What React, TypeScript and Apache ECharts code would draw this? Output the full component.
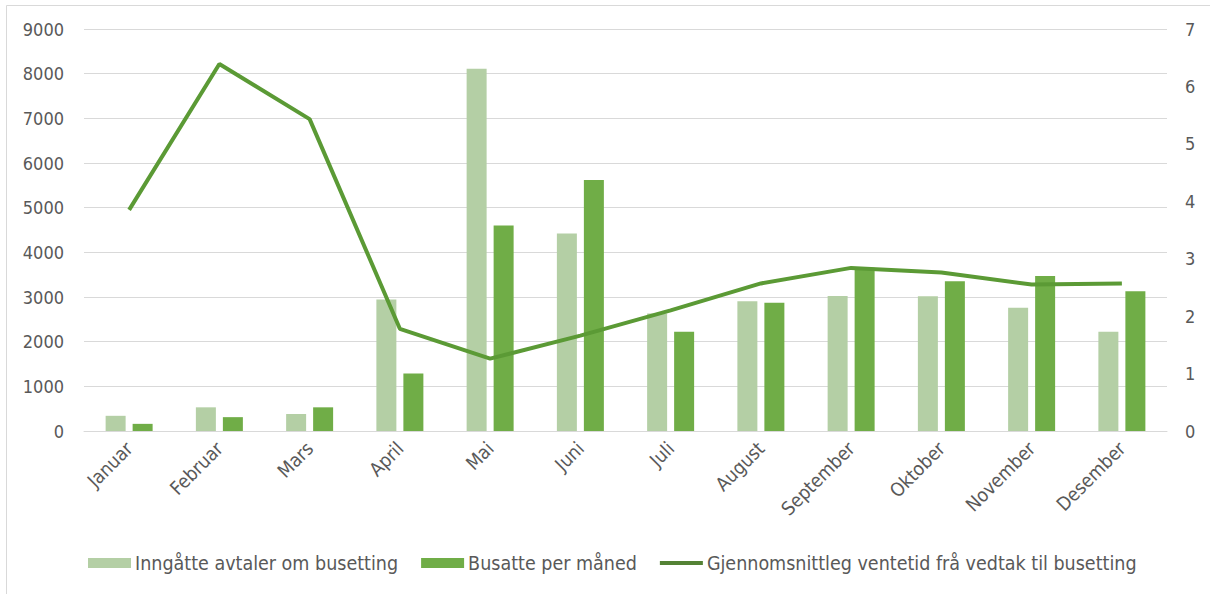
import React, { useEffect, useRef } from "react";
import * as echarts from "echarts";

const months = ["Januar", "Februar", "Mars", "April", "Mai", "Juni", "Juli", "August", "September", "Oktober", "November", "Desember"];
const avtaler = [340, 530, 380, 2945, 8110, 4420, 2630, 2905, 3020, 3015, 2760, 2220];
const busatte = [160, 310, 530, 1285, 4600, 5620, 2220, 2870, 3655, 3355, 3470, 3130];
const ventetid = [3.85, 6.39, 5.43, 1.78, 1.26, 1.66, 2.1, 2.57, 2.84, 2.76, 2.55, 2.57];

const leftTicks = { min: 0, max: 9000, interval: 1000 };
const rightTicks = { min: 0, max: 7, interval: 1 };

const FONT = "DejaVu Sans Condensed";
const TEXT = "#595959";
const GRID = "#d9d9d9";

export default function App() {
  const ref = useRef<HTMLDivElement>(null);
  useEffect(() => {
    if (!ref.current) return;
    const chart = echarts.init(ref.current, undefined, { renderer: "svg" });
    chart.setOption({
      animation: false,
      backgroundColor: "#ffffff",
      textStyle: { fontFamily: FONT },
      graphic: [
        {
          type: "rect",
          shape: { x: 6.5, y: 5.5, width: 1300, height: 700 },
          style: { fill: "none", stroke: GRID, lineWidth: 1 },
          silent: true,
        },
      ],
      grid: { left: 84, right: 43, top: 29, bottom: 163, containLabel: false },
      legend: {
        bottom: 16,
        left: 83,
        itemWidth: 43,
        itemHeight: 10,
        itemGap: 23,
        textStyle: { fontFamily: FONT, fontSize: 19.5, color: TEXT, padding: [0, 0, 0, -1] },
        data: [
          { name: "Inngåtte avtaler om busetting", icon: "rect" },
          { name: "Busatte per måned", icon: "rect" },
          {
            name: "Gjennomsnittleg ventetid frå vedtak til busetting",
            icon: "path://M0,3 L43,3 L43,7 L0,7 Z",
            itemStyle: { color: "#548235" },
          },
        ],
      },
      xAxis: {
        type: "category",
        data: months,
        axisLine: { show: true, lineStyle: { color: GRID, width: 1 } },
        axisTick: { show: false },
        axisLabel: { rotate: 45, color: TEXT, fontSize: 19, fontFamily: FONT, margin: 14 },
      },
      yAxis: [
        {
          type: "value",
          ...leftTicks,
          axisLine: { show: false },
          axisTick: { show: false },
          splitLine: { lineStyle: { color: GRID, width: 1 } },
          axisLabel: { color: TEXT, fontSize: 18, fontFamily: FONT, margin: 20, formatter: (v: number) => String(v) },
        },
        {
          type: "value",
          ...rightTicks,
          axisLine: { show: false },
          axisTick: { show: false },
          splitLine: { show: false },
          axisLabel: { color: TEXT, fontSize: 18, fontFamily: FONT, margin: 18 },
        },
      ],
      series: [
        {
          name: "Inngåtte avtaler om busetting",
          type: "bar",
          data: avtaler,
          barWidth: 20,
          barGap: "35%",
          itemStyle: { color: "#b4cfa5" },
        },
        {
          name: "Busatte per måned",
          type: "bar",
          data: busatte,
          barWidth: 20,
          barGap: "35%",
          itemStyle: { color: "#70ad47" },
        },
        {
          name: "Gjennomsnittleg ventetid frå vedtak til busetting",
          type: "line",
          yAxisIndex: 1,
          data: ventetid,
          symbol: "none",
          z: 5,
          lineStyle: { color: "#5b9a35", width: 4 },
          itemStyle: { color: "#5b9a35" },
        },
      ],
    });
    return () => chart.dispose();
  }, []);
  return (
    <div
      ref={ref}
      style={{ position: "absolute", left: 0, top: 0, width: 1210, height: 594, background: "#fff" }}
    />
  );
}
